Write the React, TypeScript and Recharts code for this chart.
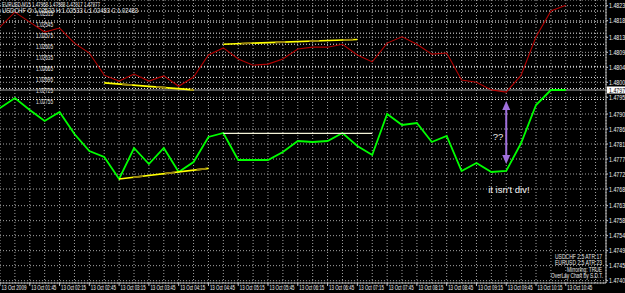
import React from "react";
import {
  LineChart,
  Line,
  XAxis,
  YAxis,
  CartesianGrid,
  ReferenceLine,
  ReferenceDot,
} from "recharts";

// 15 minute bars, 13 Oct 2009
const times = [
  "01:15", "01:30", "01:45", "02:00", "02:15", "02:30", "02:45", "03:00", "03:15", "03:30",
  "03:45", "04:00", "04:15", "04:30", "04:45", "05:00", "05:15", "05:30", "05:45", "06:00",
  "06:15", "06:30", "06:45", "07:00", "07:15", "07:30", "07:45", "08:00", "08:15", "08:30",
  "08:45", "09:00", "09:15", "09:30", "09:45", "10:00", "10:15", "10:30", "10:45",
];

// EURUSD M15 closes (main chart)
const eurusd = [
  1.47923, 1.47953, 1.47917, 1.47884, 1.47911, 1.47845, 1.47794, 1.47776, 1.4771, 1.47803,
  1.47755, 1.47803, 1.47731, 1.47761, 1.47836, 1.47848, 1.47767, 1.47767, 1.47767, 1.47791,
  1.47824, 1.47821, 1.47824, 1.47848, 1.47809, 1.47782, 1.47905, 1.47872, 1.47878, 1.47821,
  1.47839, 1.47734, 1.47758, 1.47731, 1.47734, 1.47818, 1.47932, 1.47977, 1.47977,
];

// USDCHF overlay closes (mirrored scale)
const usdchf = [
  1.02558, 1.02518, 1.02545, 1.02572, 1.02561, 1.02602, 1.02629, 1.02689, 1.02705, 1.02686,
  1.02705, 1.02691, 1.02719, 1.02694, 1.02634, 1.02615, 1.02645, 1.02662, 1.02659, 1.02645,
  1.02618, 1.02613, 1.02613, 1.02605, 1.02634, 1.02653, 1.02602, 1.02585, 1.02605, 1.02632,
  1.02629, 1.02702, 1.02708, 1.02729, 1.02735, 1.02689, 1.02585, 1.02515, 1.02499,
];

const priceTicks = [
  1.4823, 1.48185, 1.48135, 1.4809, 1.48045, 1.48, 1.47955, 1.47905, 1.4786, 1.47815,
  1.4777, 1.47725, 1.4768, 1.4763, 1.47585, 1.4754, 1.47495, 1.4745, 1.47405,
];
const chfLevels = [1.02515, 1.02545, 1.02575, 1.02605, 1.02635, 1.02665, 1.02695, 1.02725, 1.02755];
const bid = 1.47977;

// drawn objects: [x0, y0, x1, y1] in bar index / price
const chfTrends = [
  [7, 1.0271, 13, 1.02729],
  [15, 1.02605, 24, 1.02592],
];
const eurTrends = [[8, 1.4771, 14, 1.47742]];
const eurLevels = [[15, 1.47847, 25, 1.47847]];
const arrow = [34, 1.47944, 34, 1.47755];
const notes = [
  { x: 33.45, y: 1.47839, text: "??" },
  { x: 34.18, y: 1.4768, text: "it isn't div!" },
];

const headerLines = [
  "EURUSD,M15  1.47968 1.47988 1.47917 1.47977",
  "USDCHF O:1.02533 H:1.02533 L:1.02483 C:1.02483",
];
const footerLines = ["USDCHF 2.5 ATR 17", "EURUSD 2.5 ATR 23", "Mirroring: TRUE", "OverLay Chart by S.D.T."];

const data = times.map((t, i) => ({ i, t, eur: eurusd[i], chf: usdchf[i] }));
const barTicks = Array.from({ length: 41 }, (_, i) => i);

const font = "'Liberation Sans', Arial, sans-serif";
const yellow = "#ffff00";
const olive = "#9a8410";
const purple = "#a070dc";

const TimeTick = ({ x, y, payload }: any) => {
  const i = payload.value;
  if (i % 2 !== 0 || i >= times.length) return <g />;
  const label = i === 0 ? "13 Oct 2009" : `13 Oct ${times[i]}`;
  return (
    <g>
      <line x1={x} x2={x} y1={y} y2={y + 3} stroke="#c0c0c0" />
      <text x={x + 1.5} y={y + 7} fill="#f0f0f0" fontSize={7} fontFamily={font} textLength={25} lengthAdjust="spacingAndGlyphs">
        {label}
      </text>
    </g>
  );
};

const PriceTick = ({ x, y, payload }: any) => (
  <g>
    <line x1={x} x2={x + 2} y1={y} y2={y} stroke="#c0c0c0" />
    <text x={x + 3} y={y + 2.5} fill="#f0f0f0" fontSize={7} fontFamily={font} textLength={19} lengthAdjust="spacingAndGlyphs">
      {payload.value.toFixed(5)}
    </text>
  </g>
);

const ArrowShape = (p: any) => {
  const top = Math.min(p.y1, p.y2);
  const bot = Math.max(p.y1, p.y2);
  const x = p.x1;
  return (
    <g>
      <line x1={x} x2={x} y1={top + 6} y2={bot - 6} stroke={purple} strokeWidth={2} />
      <polygon points={`${x},${top} ${x - 4},${top + 9} ${x + 4},${top + 9}`} fill={purple} />
      <polygon points={`${x},${bot} ${x - 4},${bot - 9} ${x + 4},${bot - 9}`} fill={purple} />
    </g>
  );
};

export default function App() {
  return (
    <div style={{ position: "absolute", left: 0, top: 0, width: 625, height: 293, background: "#000", overflow: "hidden" }}>
      <LineChart width={625} height={293} data={data} margin={{ top: 0, right: 0, bottom: 0, left: 0 }}>
        <XAxis
          dataKey="i"
          type="number"
          domain={[0, 40.7]}
          allowDataOverflow
          ticks={barTicks}
          interval={0}
          height={10}
          tickSize={0}
          tickMargin={0}
          tickLine={false}
          axisLine={{ stroke: "#c0c0c0" }}
          tick={<TimeTick />}
        />
        <YAxis
          yAxisId="eur"
          orientation="right"
          width={19}
          domain={[1.47398, 1.48247]}
          allowDataOverflow
          ticks={priceTicks}
          interval={0}
          tickSize={0}
          tickMargin={0}
          tickLine={false}
          axisLine={{ stroke: "#c0c0c0" }}
          tick={<PriceTick />}
        />
        <YAxis yAxisId="chf" hide reversed domain={[1.02485, 1.03253]} allowDataOverflow />
        <CartesianGrid yAxisId="eur" stroke="#a4a4a4" strokeDasharray="1 2" />

        {chfLevels.map((v) => (
          <ReferenceLine
            key={v}
            yAxisId="chf"
            y={v}
            stroke="#f4f4f4"
            strokeDasharray="1 2"
            label={(p: any) => (
              <text x={p.viewBox.x + 36} y={p.viewBox.y + 4.5} fill="#e6e6e6" fontSize={7} fontFamily={font} textLength={17} lengthAdjust="spacingAndGlyphs">
                {v.toFixed(5)}
              </text>
            )}
          />
        ))}

        <ReferenceLine
          yAxisId="eur"
          y={bid}
          stroke="#a8a8a8"
          label={(p: any) => (
            <g>
              <rect x={p.viewBox.x + p.viewBox.width + 1} y={p.viewBox.y - 3.5} width={20} height={7} fill="#ffffff" />
              <text x={p.viewBox.x + p.viewBox.width + 3} y={p.viewBox.y + 2.5} fill="#000" fontSize={7} fontFamily={font} textLength={19} lengthAdjust="spacingAndGlyphs">
                {bid.toFixed(5)}
              </text>
            </g>
          )}
        />

        <Line yAxisId="chf" dataKey="chf" stroke="#b30000" strokeWidth={1.1} dot={false} activeDot={false} isAnimationActive={false} />
        <Line yAxisId="eur" dataKey="eur" stroke="#00ff00" strokeWidth={1.8} dot={false} activeDot={false} isAnimationActive={false} />

        {chfTrends.map((s, k) => (
          <ReferenceLine key={`c${k}`} yAxisId="chf" segment={[{ x: s[0], y: s[1] }, { x: s[2], y: s[3] }]} stroke={yellow} strokeWidth={1.6} />
        ))}
        {chfTrends.map((s, k) => (
          <ReferenceLine key={`co${k}`} yAxisId="chf" segment={[{ x: s[0], y: s[1] }, { x: s[2], y: s[3] }]} stroke={olive} strokeWidth={1.8} strokeDasharray="0 18 10 6" />
        ))}
        {eurTrends.map((s, k) => (
          <ReferenceLine key={`e${k}`} yAxisId="eur" segment={[{ x: s[0], y: s[1] }, { x: s[2], y: s[3] }]} stroke={yellow} strokeWidth={1.6} />
        ))}
        {eurTrends.map((s, k) => (
          <ReferenceLine key={`eo${k}`} yAxisId="eur" segment={[{ x: s[0], y: s[1] }, { x: s[2], y: s[3] }]} stroke={olive} strokeWidth={1.8} strokeDasharray="0 14 10 8" />
        ))}
        {eurLevels.map((s, k) => (
          <ReferenceLine key={`l${k}`} yAxisId="eur" segment={[{ x: s[0], y: s[1] }, { x: s[2], y: s[3] }]} stroke="#f4f4d8" strokeWidth={1.3} />
        ))}
        <ReferenceLine yAxisId="eur" segment={[{ x: arrow[0], y: arrow[1] }, { x: arrow[2], y: arrow[3] }]} shape={ArrowShape} />
        {notes.map((n) => (
          <ReferenceDot
            key={n.text}
            yAxisId="eur"
            x={n.x}
            y={n.y}
            shape={(p: any) => (
              <text x={p.cx} y={p.cy + 3.5} textAnchor="middle" fill="#f0f0f0" fontSize={9.5} fontFamily={font}>
                {n.text}
              </text>
            )}
          />
        ))}
      </LineChart>
      <svg width={625} height={293} style={{ position: "absolute", left: 0, top: 0, pointerEvents: "none" }}>
        <text x={2} y={6.5} fill="#e6e6e6" fontSize={7} fontFamily={font} textLength={98} lengthAdjust="spacingAndGlyphs">
          {headerLines[0]}
        </text>
        <text x={2} y={12.8} fill="#e6e6e6" fontSize={7} fontFamily={font} textLength={136} lengthAdjust="spacingAndGlyphs">
          {headerLines[1]}
        </text>
        <text x={555} y={258.5} fill="#e6e6e6" fontSize={7} fontFamily={font} textLength={47} lengthAdjust="spacingAndGlyphs">
          {footerLines[0]}
        </text>
        <text x={555} y={265.3} fill="#e6e6e6" fontSize={7} fontFamily={font} textLength={47} lengthAdjust="spacingAndGlyphs">
          {footerLines[1]}
        </text>
        <text x={567} y={271.8} fill="#e6e6e6" fontSize={7} fontFamily={font} textLength={35} lengthAdjust="spacingAndGlyphs">
          {footerLines[2]}
        </text>
        <text x={551} y={278.3} fill="#e6e6e6" fontSize={7} fontFamily={font} textLength={52} lengthAdjust="spacingAndGlyphs">
          {footerLines[3]}
        </text>
      </svg>
    </div>
  );
}
